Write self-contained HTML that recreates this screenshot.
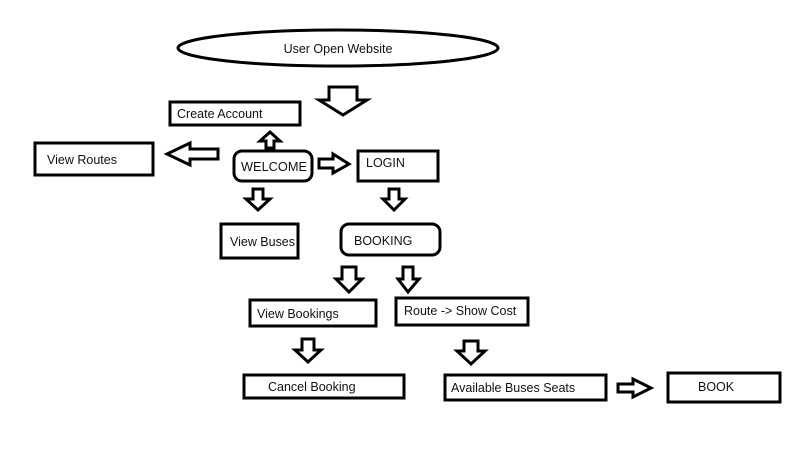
<!DOCTYPE html>
<html><head><meta charset="utf-8"><style>
body{margin:0;background:#fff}
svg{display:block}
text{font-family:"Liberation Sans",sans-serif;font-size:12.5px;fill:#111}
</style></head><body>
<svg width="800" height="450" viewBox="0 0 800 450" xmlns="http://www.w3.org/2000/svg">
<g fill="#fff" stroke="#000" stroke-width="3">
<ellipse cx="338" cy="48" rx="160" ry="18"/>
<rect x="170" y="102" width="130" height="23"/>
<rect x="35" y="143" width="118" height="32"/>
<rect x="234" y="151" width="78" height="30" rx="8"/>
<rect x="358" y="151" width="80" height="30"/>
<rect x="221" y="224" width="77" height="34"/>
<rect x="341" y="224" width="99" height="31" rx="8"/>
<rect x="250" y="300" width="126" height="26"/>
<rect x="396" y="298" width="132" height="27"/>
<rect x="244" y="375" width="160" height="23"/>
<rect x="445" y="375" width="161" height="25"/>
<rect x="668" y="373" width="112" height="29"/>
</g>
<g fill="#fff" stroke="#000" stroke-width="3" stroke-linejoin="miter">
<polygon points="329,87 357,87 357,100 367,100 343,115 319,100 329,100"/>
<polygon points="266,148 274,148 274,141 280,141 270,132 260,141 266,141"/>
<polygon points="218,149 218,159 190,159 190,165 167,154 190,143 190,149"/>
<polygon points="319,159 333,159 333,154 349,164 333,173 333,168 319,168"/>
<polygon points="253,189 263,189 263,199 270,199 258,210 246,199 253,199"/>
<polygon points="389,189 399,189 399,199 405,199 394,210 383,199 389,199"/>
<polygon points="342,267 356,267 356,279 362,279 349,292 336,279 342,279"/>
<polygon points="403,267 413,267 413,279 419,279 408,292 398,279 403,279"/>
<polygon points="302,339 314,339 314,350 321,350 308,362 295,350 302,350"/>
<polygon points="464,341 478,341 478,351 485,351 471,364 457,351 464,351"/>
<polygon points="618,384 633,384 633,379 651,388 633,397 633,392 618,392"/>
</g>
<text x="338" y="53" text-anchor="middle">User Open Website</text>
<text x="177" y="118">Create Account</text>
<text x="47" y="164">View Routes</text>
<text x="241" y="171" textLength="66" lengthAdjust="spacingAndGlyphs">WELCOME</text>
<text x="366" y="167">LOGIN</text>
<text x="230" y="246" textLength="65" lengthAdjust="spacingAndGlyphs">View Buses</text>
<text x="354" y="245">BOOKING</text>
<text x="257" y="318">View Bookings</text>
<text x="404" y="315">Route -&gt; Show Cost</text>
<text x="268" y="391">Cancel Booking</text>
<text x="451" y="392">Available Buses Seats</text>
<text x="698" y="391">BOOK</text>
</svg>
</body></html>
